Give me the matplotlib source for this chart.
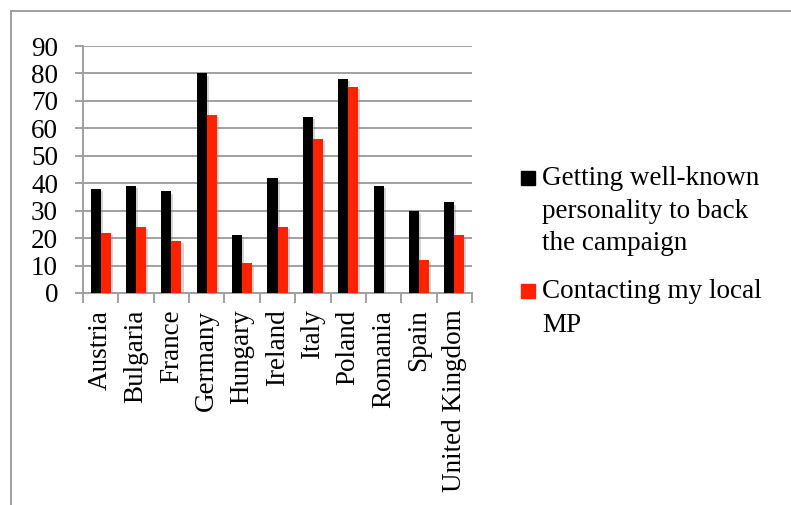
import numpy as np
import matplotlib.pyplot as plt
import matplotlib.patheffects as pe
from matplotlib.lines import Line2D
from matplotlib.patches import Rectangle

countries = ['Austria', 'Bulgaria', 'France', 'Germany', 'Hungary', 'Ireland',
             'Italy', 'Poland', 'Romania', 'Spain', 'United Kingdom']
personality = [38, 39, 37, 80, 21, 42, 64, 78, 39, 30, 33]
local_mp = [22, 24, 19, 65, 11, 24, 56, 75, 0, 12, 21]
series_lines = [['Getting well-known', 'personality to back', 'the campaign'],
                ['Contacting my local', 'MP']]
colors = ['#000000', '#ff2200']

plt.rcParams['font.family'] = ['Liberation Serif', 'DejaVu Serif']
FS = 19.5

fig = plt.figure(figsize=(7.91, 5.05), dpi=100)
ax = fig.add_axes([83 / 791, 1 - 293 / 505, (472 - 83) / 791, (293 - 46) / 505])

x = np.arange(len(countries))
w = 0.283
shadow = [pe.SimplePatchShadow(offset=(1.5, -1.5), shadow_rgbFace='#888888', alpha=0.35),
          pe.Normal()]
for i, (vals, c) in enumerate([(personality, colors[0]), (local_mp, colors[1])]):
    bars = ax.bar(x + (i - 0.5) * w, vals, width=w, color=c, zorder=3)
    for b in bars:
        b.set_path_effects(shadow)

ax.set_xlim(-0.5, len(countries) - 0.5)
ax.set_ylim(0, 90)
ax.set_yticks(range(0, 91, 10))
ax.yaxis.grid(True, color='#a0a0a0', linewidth=1.4, zorder=0)
ax.set_axisbelow(True)

for s in ['top', 'right']:
    ax.spines[s].set_visible(False)
for s in ['left', 'bottom']:
    ax.spines[s].set_color('#a0a0a0')
    ax.spines[s].set_linewidth(1.4)

ax.set_xticks(x)
ax.set_xticklabels(countries, rotation=90, fontsize=FS)
ax.tick_params(axis='x', which='major', length=0, pad=12)
ax.set_xticks(np.arange(-0.5, len(countries)), minor=True)
ax.tick_params(axis='x', which='minor', length=7, color='#a0a0a0', width=1.4)
ax.tick_params(axis='y', length=6, color='#a0a0a0', width=1.4, labelsize=FS, pad=12)

# legend drawn beside the plot, one text line at a time
baselines = [[185, 218, 250], [298, 332]]
for lines, bl, c in zip(series_lines, baselines, colors):
    fig.patches.append(Rectangle((521 / 791, 1 - bl[0] / 505), 14 / 791, 14 / 505,
                                 transform=fig.transFigure, color=c))
    for txt, y in zip(lines, bl):
        fig.text(542 / 791, 1 - y / 505, txt, fontsize=FS, va='baseline', ha='left')

# chart frame
fig.add_artist(Line2D([11 / 791, 1], [1 - 11 / 505] * 2, color='#a0a0a0', lw=1.4))
fig.add_artist(Line2D([11 / 791] * 2, [0, 1 - 11 / 505], color='#a0a0a0', lw=1.4))

fig.savefig('out.png', dpi=100)
